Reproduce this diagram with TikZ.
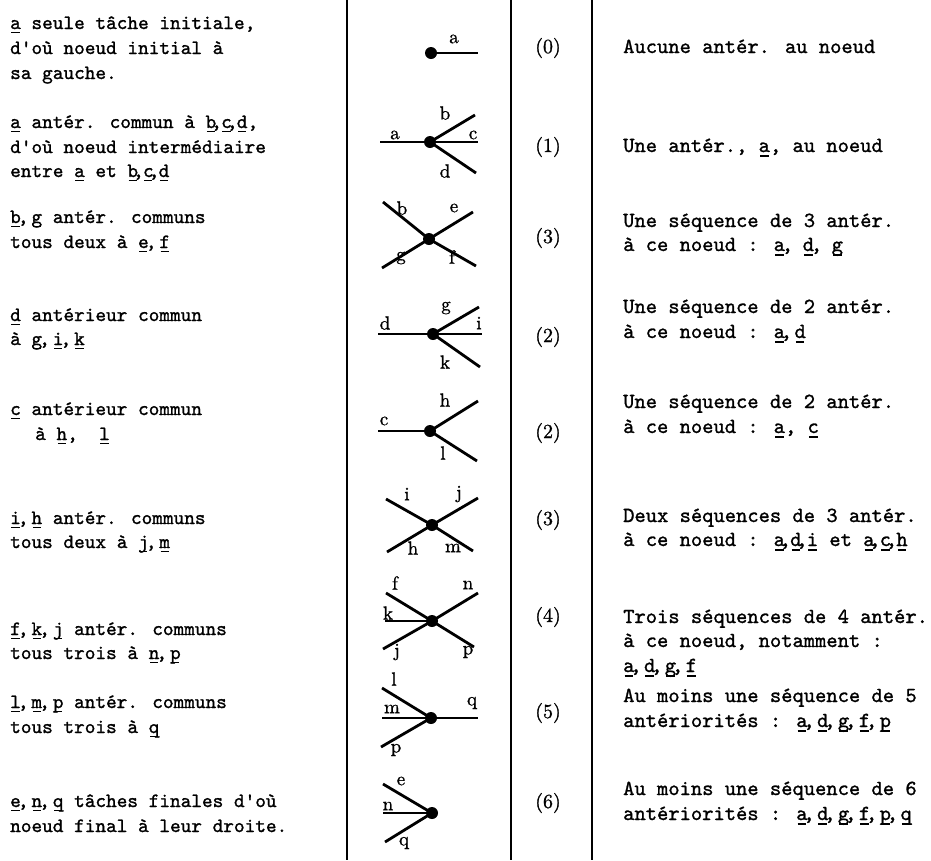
\documentclass[tikz,border=0pt]{standalone}
\usepackage{fontspec}
\newfontfamily\twf{lmmono10-regular}[Extension=.otf, FakeBold=1.2]
\newfontfamily\lblf{lmroman10-regular}[Extension=.otf, FakeBold=1]
\newlength\uslen
\newcommand\us[1]{\setbox0=\hbox{#1}\uslen=\wd0\rlap{\kern0.12\uslen\rule[-0.22em]{0.76\uslen}{0.07em}}\box0\relax}
\newcommand\cml{\kern-0.15em,\kern0.15em}
\newcommand\cmn{\kern-0.25em,\kern-0.03em}
\newcommand\cmt{\kern-0.2em,\kern0.12em}
\newcommand\cmr{\kern-0.15em,\kern0.45em}
\begin{document}
\begin{tikzpicture}[x=1pt,y=-1pt,
  lt/.style={anchor=base west, inner sep=0pt, font=\twf\fontsize{20.3}{24}\selectfont},
  rt/.style={anchor=base west, inner sep=0pt, font=\twf\fontsize{21.5}{26}\selectfont},
  num/.style={anchor=base, inner sep=0pt, font=\lblf\fontsize{20}{24}\selectfont},
  lbl/.style={inner sep=0pt, font=\lblf\fontsize{19}{22}\selectfont},
  arcline/.style={line width=2.8pt},
  dotn/.style={circle, fill, inner sep=0pt, minimum size=12pt},
  colrule/.style={line width=1.3pt}]
\useasboundingbox (0,0) rectangle (931,860);
% column rules
\coordinate (r1t) at (347,0); \coordinate (r1b) at (347,860);
\coordinate (r2t) at (511,0); \coordinate (r2b) at (511,860);
\coordinate (r3t) at (592,0); \coordinate (r3b) at (592,860);
\draw[colrule] (r1t) -- (r1b);
\draw[colrule] (r2t) -- (r2b);
\draw[colrule] (r3t) -- (r3b);
% left column
\node[lt] (t1a) at (10,29) {\us{a} seule tâche initiale,};
\node[lt] (t1b) at (10,54) {d'où noeud initial à};
\node[lt] (t1c) at (10,79) {sa gauche.};
\node[lt] (t2a) at (10,128) {\us{a} antér. commun à \us{b}\cmn\us{c}\cmn\us{d},};
\node[lt] (t2b) at (10,153) {d'où noeud intermédiaire};
\node[lt] (t2c) at (10,177) {entre \us{a} et \us{b}\cmn\us{c}\cmn\us{d}};
\node[lt] (t3a) at (10,223) {\us{b}\cml\us{g} antér. communs};
\node[lt] (t3b) at (10,248) {tous deux à \us{e}\cml\us{f}};
\node[lt] (t4a) at (10,321) {\us{d} antérieur commun};
\node[lt] (t4b) at (10,345) {à \us{g}\cml\us{i}\cml\us{k}};
\node[lt] (t5a) at (10,415) {\us{c} antérieur commun};
\node[lt] (t5b) at (35,440) {à \us{h},~~\us{l}};
\node[lt] (t6a) at (10,524) {\us{i}\cml\us{h} antér. communs};
\node[lt] (t6b) at (10,548) {tous deux à \us{j}\cml\us{m}};
\node[lt] (t7a) at (10,635) {\us{f}\cml\us{k}\cml\us{j} antér. communs};
\node[lt] (t7b) at (10,659) {tous trois à \us{n}\cml\us{p}};
\node[lt] (t8a) at (10,708) {\us{l}\cml\us{m}\cml\us{p} antér. communs};
\node[lt] (t8b) at (10,733) {tous trois à \us{q}};
\node[lt] (t9a) at (10,807) {\us{e}\cml\us{n}\cml\us{q} tâches finales d'où};
\node[lt] (t9b) at (10,832) {noeud final à leur droite.};
% numbers
\node[num] (n0) at (548,53) {(0)};
\node[num] (n1) at (548,152) {(1)};
\node[num] (n2) at (548,243) {(3)};
\node[num] (n3) at (548,342) {(2)};
\node[num] (n4) at (548,438) {(2)};
\node[num] (n5) at (548,525) {(3)};
\node[num] (n6) at (548,622) {(4)};
\node[num] (n7) at (548,718) {(5)};
\node[num] (n8) at (548,808) {(6)};
% right column
\node[rt] (u1a) at (623,53) {Aucune antér. au noeud};
\node[rt] (u2a) at (623,152) {Une antér., \us{a}, au noeud};
\node[rt] (u3a) at (623,227) {Une séquence de 3 antér.};
\node[rt] (u3b) at (623,251) {à ce noeud : \us{a}\cmr\us{d}\cmr\us{g}};
\node[rt] (u4a) at (623,313) {Une séquence de 2 antér.};
\node[rt] (u4b) at (623,338) {à ce noeud : \us{a}\cmt\us{d}};
\node[rt] (u5a) at (623,408) {Une séquence de 2 antér.};
\node[rt] (u5b) at (623,433) {à ce noeud : \us{a},\ \us{c}};
\node[rt] (u6a) at (623,522) {Deux séquences de 3 antér.};
\node[rt] (u6b) at (623,546) {à ce noeud : \us{a}\cmn\us{d}\cmn\us{i} et \us{a}\cmn\us{c}\cmn\us{h}};
\node[rt] (u7a) at (623,623) {Trois séquences de 4 antér.};
\node[rt] (u7b) at (623,647) {à ce noeud, notamment :};
\node[rt] (u7c) at (623,672) {\us{a}\cmt\us{d}\cmt\us{g}\cmt\us{f}};
\node[rt] (u8a) at (623,702) {Au moins une séquence de 5};
\node[rt] (u8b) at (623,727) {antériorités : \us{a}\cmt\us{d}\cmt\us{g}\cmt\us{f}\cmt\us{p}};
\node[rt] (u9a) at (623,795) {Au moins une séquence de 6};
\node[rt] (u9b) at (623,820) {antériorités : \us{a}\cmt\us{d}\cmt\us{g}\cmt\us{f}\cmt\us{p}\cmt\us{q}};
% diagram 0
\node[dotn] (d0) at (431,53) {};
\coordinate (d0a) at (478,53);
\draw[arcline] (d0.center) -- (d0a);
\node[lbl] (l0a) at (454,39) {a};
% diagram 1
\node[dotn] (d1) at (430,142) {};
\coordinate (d1a) at (380,142); \coordinate (d1b) at (475,115);
\coordinate (d1c) at (478,142); \coordinate (d1d) at (476,173);
\draw[arcline] (d1a) -- (d1.center) -- (d1c);
\draw[arcline] (d1.center) -- (d1b);
\draw[arcline] (d1.center) -- (d1d);
\node[lbl] (l1a) at (395,135) {a};
\node[lbl] (l1b) at (445,113) {b};
\node[lbl] (l1c) at (473,135) {c};
\node[lbl] (l1d) at (445,171) {d};
% diagram 2
\node[dotn] (d2) at (429,239) {};
\coordinate (d2b) at (383,202); \coordinate (d2e) at (473,212);
\coordinate (d2g) at (382,268); \coordinate (d2f) at (476,266);
\draw[arcline] (d2b) -- (d2.center) -- (d2f);
\draw[arcline] (d2g) -- (d2.center) -- (d2e);
\node[lbl] (l2b) at (402,208) {b};
\node[lbl] (l2e) at (454,208) {e};
\node[lbl] (l2g) at (401,258) {g};
\node[lbl] (l2f) at (452,257) {f};
% diagram 3
\node[dotn] (d3) at (433,334) {};
\coordinate (d3d) at (378,334); \coordinate (d3i) at (482,334);
\coordinate (d3g) at (479,307); \coordinate (d3k) at (480,367);
\draw[arcline] (d3d) -- (d3.center) -- (d3i);
\draw[arcline] (d3.center) -- (d3g);
\draw[arcline] (d3.center) -- (d3k);
\node[lbl] (l3d) at (385,323) {d};
\node[lbl] (l3g) at (446,308) {g};
\node[lbl] (l3i) at (479,323) {i};
\node[lbl] (l3k) at (445,362) {k};
% diagram 4
\node[dotn] (d4) at (430,431) {};
\coordinate (d4c) at (378,431); \coordinate (d4h) at (478,401);
\coordinate (d4l) at (477,461);
\draw[arcline] (d4c) -- (d4.center);
\draw[arcline] (d4.center) -- (d4h);
\draw[arcline] (d4.center) -- (d4l);
\node[lbl] (l4c) at (384,421) {c};
\node[lbl] (l4h) at (445,400) {h};
\node[lbl] (l4l) at (443,453) {l};
% diagram 5
\node[dotn] (d5) at (432,525) {};
\coordinate (d5i) at (386,499); \coordinate (d5j) at (478,498);
\coordinate (d5h) at (387,552); \coordinate (d5m) at (473,551);
\draw[arcline] (d5i) -- (d5.center) -- (d5m);
\draw[arcline] (d5h) -- (d5.center) -- (d5j);
\node[lbl] (l5i) at (407,494) {i};
\node[lbl] (l5j) at (459,494) {j};
\node[lbl] (l5h) at (413,548) {h};
\node[lbl] (l5m) at (453,548) {m};
% diagram 6
\node[dotn] (d6) at (432,621) {};
\coordinate (d6f) at (386,593); \coordinate (d6n) at (478,593);
\coordinate (d6j) at (383,649); \coordinate (d6p) at (474,647);
\coordinate (d6k) at (385,621);
\draw[arcline] (d6f) -- (d6.center) -- (d6p);
\draw[arcline] (d6j) -- (d6.center) -- (d6n);
\draw[arcline] (d6k) -- (d6.center);
\node[lbl] (l6f) at (395,583) {f};
\node[lbl] (l6n) at (468,585) {n};
\node[lbl] (l6k) at (388,613) {k};
\node[lbl] (l6j) at (397,652) {j};
\node[lbl] (l6p) at (468,652) {p};
% diagram 7
\node[dotn] (d7) at (431,718) {};
\coordinate (d7l) at (382,688); \coordinate (d7m) at (382,718);
\coordinate (d7p) at (381,747); \coordinate (d7q) at (478,718);
\draw[arcline] (d7l) -- (d7.center);
\draw[arcline] (d7m) -- (d7.center) -- (d7q);
\draw[arcline] (d7p) -- (d7.center);
\node[lbl] (l7l) at (394,679) {l};
\node[lbl] (l7m) at (392,709) {m};
\node[lbl] (l7p) at (396,750) {p};
\node[lbl] (l7q) at (472,703) {q};
% diagram 8
\node[dotn] (d8) at (432,813) {};
\coordinate (d8e) at (383,784); \coordinate (d8n) at (383,813);
\coordinate (d8q) at (385,842);
\draw[arcline] (d8e) -- (d8.center);
\draw[arcline] (d8n) -- (d8.center);
\draw[arcline] (d8q) -- (d8.center);
\node[lbl] (l8e) at (401,781) {e};
\node[lbl] (l8n) at (388,806) {n};
\node[lbl] (l8q) at (404,843) {q};
\end{tikzpicture}
\end{document}
